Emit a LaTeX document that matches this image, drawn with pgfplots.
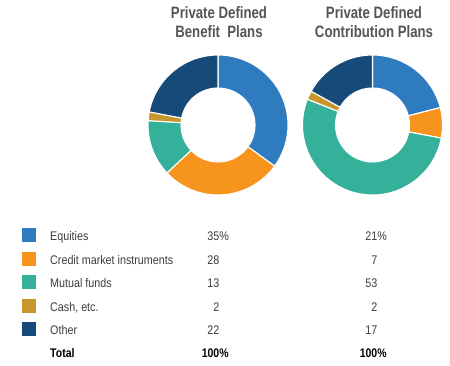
\documentclass[border=0pt]{standalone}
\usepackage{pgfplots}
\usepackage{pgfplotstable}
\pgfplotsset{compat=1.18}
\usepackage{fontspec}
\setmainfont{Liberation Sans}
\newfontfamily\tfont[FakeStretch=0.86]{Liberation Sans}
\newfontfamily\tbfont[FakeStretch=0.84]{Liberation Sans Bold}
\newfontfamily\hfont[FakeStretch=0.80]{Liberation Sans Bold}
\definecolor{c0}{HTML}{2F7BBF}
\definecolor{c1}{HTML}{F7941D}
\definecolor{c2}{HTML}{35B09A}
\definecolor{c3}{HTML}{C9962C}
\definecolor{c4}{HTML}{164A78}
\definecolor{titlegray}{HTML}{555555}
\definecolor{textgray}{HTML}{3D3D3D}

\pgfplotstableread{
cat db dc
Equities 35 21
Credit 28 7
Mutual 13 53
Cash 2 2
Other 22 17
}\alloc

\newcommand{\computeangles}[1]{%
  \gdef\cum{90}%
  \foreach \i in {0,...,4}{%
    \pgfplotstablegetelem{\i}{#1}\of\alloc
    \pgfmathsetmacro\e{\cum-3.6*\pgfplotsretval}%
    \expandafter\xdef\csname #1S\i\endcsname{\cum}%
    \expandafter\xdef\csname #1E\i\endcsname{\e}%
    \global\let\cum\e
  }%
}

\newcommand{\donut}[3]{% series, x, y (pt)
  \begin{axis}[at={(#2pt,#3pt)}, anchor=center, scale only axis,
    width=140pt, height=140pt, xmin=-1, xmax=1, ymin=-1, ymax=1,
    hide axis, clip=false]
    \addplot[draw=none] coordinates {(-1,-1) (1,1)};
    \pgfplotsinvokeforeach{0,...,4}{%
      \fill[c##1, draw=white, line width=1.1pt]
        ([shift={(\csname #1S##1\endcsname:70pt)}]axis cs:0,0)
        arc[start angle=\csname #1S##1\endcsname, end angle=\csname #1E##1\endcsname, radius=70pt]
        -- ([shift={(\csname #1E##1\endcsname:37pt)}]axis cs:0,0)
        arc[start angle=\csname #1E##1\endcsname, end angle=\csname #1S##1\endcsname, radius=37pt]
        -- cycle;
    }
  \end{axis}%
}

\begin{document}
\begin{tikzpicture}
\path[use as bounding box, fill=white] (0,0) rectangle (450pt,366pt);
\computeangles{db}
\computeangles{dc}
\donut{db}{218}{241}
\donut{dc}{372.5}{241}

% titles
\node[anchor=base, text=titlegray, font=\hfont\fontsize{16.5}{19}\selectfont]
  at (219pt,366pt-19pt) {Private Defined};
\node[anchor=base, text=titlegray, font=\hfont\fontsize{16.5}{19}\selectfont]
  at (219pt,366pt-38pt) {Benefit\ \ Plans};
\node[anchor=base, text=titlegray, font=\hfont\fontsize{16.5}{19}\selectfont]
  at (374pt,366pt-19pt) {Private Defined};
\node[anchor=base, text=titlegray, font=\hfont\fontsize{16.5}{19}\selectfont]
  at (374pt,366pt-38pt) {Contribution Plans};

% table
\foreach \lab/\va/\vb/\col/\yc [count=\k] in {Equities/35\rlap{\%}/21\rlap{\%}/c0/235.5,
  Credit market instruments/28/7/c1/259,
  Mutual funds/13/53/c2/282.3,
  {Cash, etc.}/2/2/c3/305.8,
  Other/22/17/c4/329.3}{
  \fill[\col] (22pt,366pt-\yc pt-7pt) rectangle (36pt,366pt-\yc pt+7pt);
  \node[anchor=base west, inner sep=0pt, text=textgray, font=\tfont\fontsize{12.5}{14}\selectfont]
    at (50pt,366pt-\yc pt-5.5pt) {\lab};
  \node[anchor=base east, inner sep=0pt, text=textgray, font=\tfont\fontsize{12.5}{14}\selectfont]
    at (219.5pt,366pt-\yc pt-5.5pt) {\va};
  \node[anchor=base east, inner sep=0pt, text=textgray, font=\tfont\fontsize{12.5}{14}\selectfont]
    at (377.5pt,366pt-\yc pt-5.5pt) {\vb};
}
\node[anchor=base west, inner sep=0pt, text=black, font=\tbfont\fontsize{12.5}{14}\selectfont]
  at (50pt,366pt-358pt) {Total};
\node[anchor=base east, inner sep=0pt, text=black, font=\tbfont\fontsize{12.5}{14}\selectfont]
  at (219.5pt,366pt-358pt) {100\rlap{\%}};
\node[anchor=base east, inner sep=0pt, text=black, font=\tbfont\fontsize{12.5}{14}\selectfont]
  at (377.5pt,366pt-358pt) {100\rlap{\%}};
\end{tikzpicture}
\end{document}
